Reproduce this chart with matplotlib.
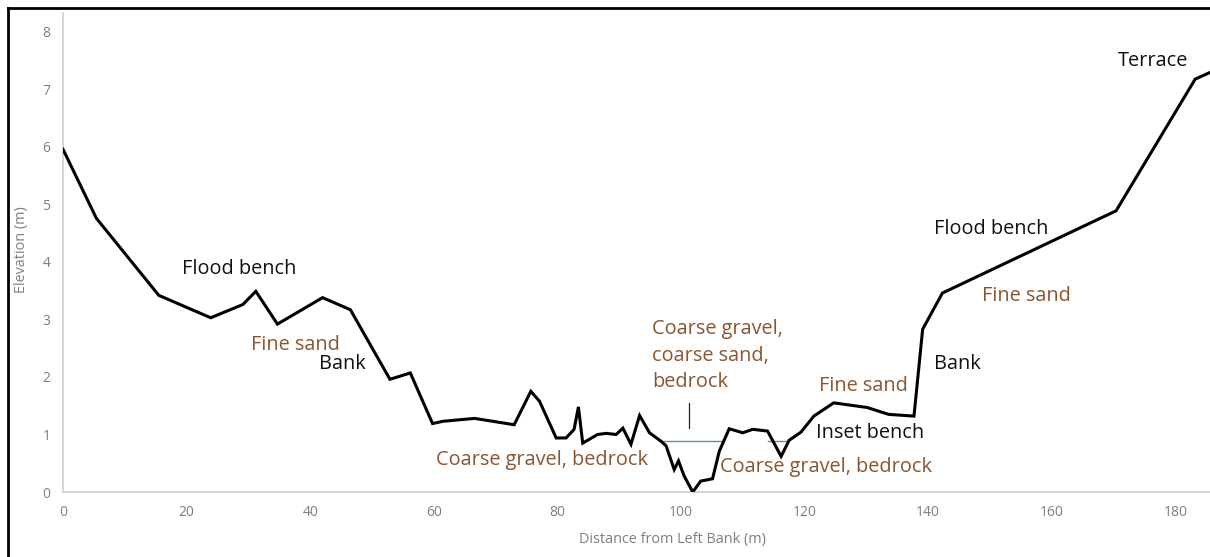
import matplotlib
matplotlib.use("Agg")
import matplotlib.pyplot as plt
from matplotlib.lines import Line2D

# ---- data ----
distance = [0, 5.4, 15.5, 23.9, 29.1, 31.2, 34.7, 42.0, 46.5, 52.9, 56.2, 59.8,
            61.5, 66.6, 73.0, 75.7, 77.1, 79.8, 81.4, 82.7, 83.4, 84.1, 86.5,
            87.9, 89.5, 90.6, 91.9, 93.3, 94.9, 96.8, 97.6, 98.9, 99.6, 100.5,
            101.9, 103.2, 105.1, 106.2, 107.8, 110.0, 111.6, 114.0, 116.2,
            117.5, 119.4, 121.5, 124.7, 130.1, 133.6, 137.7, 139.1, 142.3,
            170.4, 183.2, 186.5]
elevation = [5.96, 4.76, 3.42, 3.03, 3.26, 3.49, 2.92, 3.38, 3.17, 1.96, 2.07,
             1.19, 1.23, 1.28, 1.17, 1.75, 1.58, 0.94, 0.94, 1.09, 1.48, 0.85,
             1.0, 1.02, 1.0, 1.11, 0.83, 1.33, 1.03, 0.88, 0.80, 0.39, 0.54,
             0.28, 0.0, 0.19, 0.23, 0.71, 1.10, 1.03, 1.09, 1.06, 0.62, 0.90,
             1.04, 1.32, 1.55, 1.47, 1.35, 1.32, 2.83, 3.46, 4.89, 7.18, 7.34]

water_main_x = [97.0, 106.4]
water_side_x = [114.0, 117.3]
water_level = 0.88

marker_x = [101.3, 101.3]
marker_y = [1.11, 1.55]

x_ticks = [0, 20, 40, 60, 80, 100, 120, 140, 160, 180]
y_ticks = [0, 1, 2, 3, 4, 5, 6, 7, 8]

black_labels = [("Flood bench", 19.2, 3.88), ("Bank", 41.5, 2.22),
                ("Inset bench", 121.8, 1.02), ("Bank", 141.0, 2.22),
                ("Flood bench", 141.0, 4.58), ("Terrace", 170.7, 7.5)]
brown_labels = [("Fine sand", 30.4, 2.56),
                ("Coarse gravel,\ncoarse sand,\nbedrock", 95.3, 2.37),
                ("Coarse gravel, bedrock", 60.4, 0.56),
                ("Coarse gravel, bedrock", 106.3, 0.44),
                ("Fine sand", 122.3, 1.85),
                ("Fine sand", 148.7, 3.40)]

plt.rcParams['font.family'] = ['Open Sans', 'DejaVu Sans']

W, H = 1210, 557
fig = plt.figure(figsize=(W / 100, H / 100), dpi=100)
ax = fig.add_axes([63 / W, 1 - 492 / H, 1 - 63 / W, (492 - 13) / H])

ax.plot(water_main_x, [water_level] * 2, color="#5e9490", lw=1.0, zorder=2)
ax.plot(water_side_x, [water_level] * 2, color="#5e9490", lw=1.0, zorder=2)
ax.plot(marker_x, marker_y, color="#222222", lw=0.9, zorder=2)
ax.plot(distance, elevation, color="black", lw=2.2, solid_joinstyle="miter",
        zorder=3, clip_on=True)

ax.set_xlim(0, (W - 63) / 6.18)
ax.set_ylim(0, 8.33)
ax.set_xticks(x_ticks)
ax.set_yticks(y_ticks)
ax.tick_params(length=0, labelsize=10, labelcolor="#7f7f7f", pad=9)
for s in ("top", "right"):
    ax.spines[s].set_visible(False)
for s in ("left", "bottom"):
    ax.spines[s].set_color("#d0d0d0")
    ax.spines[s].set_linewidth(1.2)

for txt, x, y in black_labels:
    ax.text(x, y, txt, color="#111111", fontsize=14.3, va="center", ha="left")
for txt, x, y in brown_labels:
    ax.text(x, y, txt, color="#8a5530", fontsize=14.3, va="center", ha="left",
            linespacing=1.45)

fig.text(22 / W, 1 - 250 / H, "Elevation (m)", rotation=90, color="#7f7f7f",
         fontsize=10.4, ha="center", va="center")
fig.text(672 / W, 1 - 540 / H, "Distance from Left Bank (m)", color="#7f7f7f",
         fontsize=10.4, ha="center", va="center")

# outer chart border (left and top visible in the crop)
fig.add_artist(Line2D([8 / W, 8 / W], [0, 1 - 8 / H], transform=fig.transFigure,
                      color="black", lw=2))
fig.add_artist(Line2D([8 / W, 1], [1 - 8 / H, 1 - 8 / H], transform=fig.transFigure,
                      color="black", lw=2))

fig.savefig("out.png", dpi=100)
